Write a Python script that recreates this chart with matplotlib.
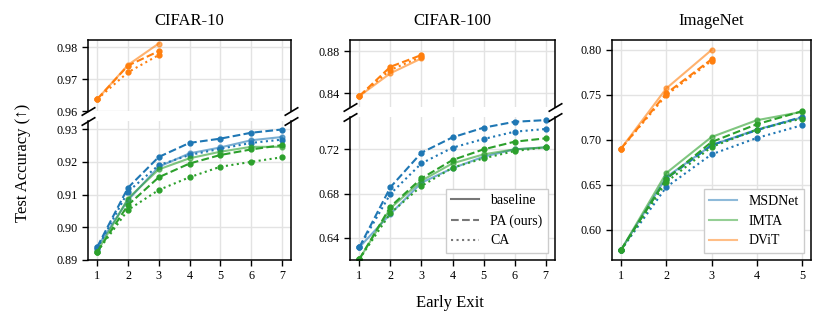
import numpy as np
import matplotlib
matplotlib.use('Agg')
import matplotlib.pyplot as plt
from matplotlib.lines import Line2D

plt.rcParams['font.family'] = ['Liberation Serif', 'DejaVu Serif']
plt.rcParams['mathtext.fontset'] = 'stix'

# data: accuracy per early exit, (baseline, PA, CA)
c10_exits = [1, 2, 3, 4, 5, 6, 7]
c10_msd_base = [0.8939, 0.9083, 0.9185, 0.9226, 0.9244, 0.9266, 0.9276]
c10_msd_pa = [0.8940, 0.9121, 0.9215, 0.9258, 0.9271, 0.9289, 0.9299]
c10_msd_ca = [0.8935, 0.9109, 0.9190, 0.9221, 0.9240, 0.9258, 0.9268]
c10_imta_base = [0.8925, 0.9088, 0.9177, 0.9211, 0.9231, 0.9246, 0.9246]
c10_imta_pa = [0.8925, 0.9068, 0.9153, 0.9195, 0.9221, 0.9238, 0.9251]
c10_imta_ca = [0.8925, 0.9053, 0.9114, 0.9153, 0.9185, 0.9200, 0.9214]
c10_dvit_exits = [1, 2, 3]
c10_dvit_base = [0.9637, 0.9744, 0.9811]
c10_dvit_pa = [0.9637, 0.9742, 0.9787]
c10_dvit_ca = [0.9637, 0.9721, 0.9775]

c100_exits = [1, 2, 3, 4, 5, 6, 7]
c100_msd_base = [0.6316, 0.6616, 0.6897, 0.7027, 0.7131, 0.7197, 0.7215]
c100_msd_pa = [0.6316, 0.6856, 0.7167, 0.7305, 0.7392, 0.7445, 0.7460]
c100_msd_ca = [0.6316, 0.6796, 0.7071, 0.7212, 0.7290, 0.7356, 0.7380]
c100_imta_base = [0.6209, 0.6667, 0.6915, 0.7071, 0.7152, 0.7197, 0.7215]
c100_imta_pa = [0.6209, 0.6681, 0.6936, 0.7101, 0.7197, 0.7266, 0.7296]
c100_imta_ca = [0.6209, 0.6622, 0.6867, 0.7032, 0.7116, 0.7182, 0.7215]
c100_dvit_exits = [1, 2, 3]
c100_dvit_base = [0.8371, 0.8588, 0.8730]
c100_dvit_pa = [0.8371, 0.8650, 0.8762]
c100_dvit_ca = [0.8371, 0.8620, 0.8746]

in_exits = [1, 2, 3, 4, 5]
in_msd_base = [0.5773, 0.6585, 0.6939, 0.7114, 0.7248]
in_msd_pa = [0.5773, 0.6566, 0.6940, 0.7106, 0.7255]
in_msd_ca = [0.5773, 0.6473, 0.6838, 0.7020, 0.7162]
in_imta_base = [0.5773, 0.6630, 0.7031, 0.7218, 0.7311]
in_imta_pa = [0.5773, 0.6566, 0.6975, 0.7173, 0.7318]
in_imta_ca = [0.5773, 0.6529, 0.6920, 0.7114, 0.7237]
in_dvit_exits = [1, 2, 3]
in_dvit_base = [0.6902, 0.7572, 0.8000]
in_dvit_pa = [0.6902, 0.7516, 0.7896]
in_dvit_ca = [0.6902, 0.7497, 0.7880]

titles = ['CIFAR-10', 'CIFAR-100', 'ImageNet']
colors = {'MSDNet': 'tab:blue', 'IMTA': 'tab:green', 'DViT': 'tab:orange'}

W, H = 830, 328
fig = plt.figure(figsize=(W / 100, H / 100), dpi=100)


def px_axes(x0, x1, y0, y1):
    return fig.add_axes([x0 / W, 1 - y1 / H, (x1 - x0) / W, (y1 - y0) / H])


def draw(ax, x, base, pa, ca, color):
    ax.plot(x, base, '-', color=color, lw=1.5, alpha=0.6, marker='o', ms=3.5)
    ax.plot(x, pa, '--', color=color, lw=1.5, marker='o', ms=3.5)
    ax.plot(x, ca, ':', color=color, lw=1.5, marker='o', ms=3.5)


def style(ax):
    ax.grid(True, color='#e3e3e3', lw=1)
    ax.set_axisbelow(True)
    for s in ax.spines.values():
        s.set_linewidth(1.1)
    ax.tick_params(labelsize=8.7, width=1.0, length=4)


def breakmarks(ax, y):
    d = 0.6
    ax.plot([0, 1], [y, y], transform=ax.transAxes, marker=[(-1, -d), (1, d)],
            markersize=10, linestyle='none', color='k', mec='k', mew=1.2, clip_on=False)


panels = [
    dict(x0=88, x1=291, top=(40, 111), bot=(121, 260), ytop=(0.96, 0.9822), ybot=(0.89, 0.9325),
         ttop=[0.96, 0.97, 0.98], tbot=[0.89, 0.90, 0.91, 0.92, 0.93],
         ex=c10_exits, msd=(c10_msd_base, c10_msd_pa, c10_msd_ca),
         imta=(c10_imta_base, c10_imta_pa, c10_imta_ca),
         dx=c10_dvit_exits, dvit=(c10_dvit_base, c10_dvit_pa, c10_dvit_ca)),
    dict(x0=350, x1=555, top=(40, 107), bot=(117, 260), ytop=(0.8267, 0.8905), ybot=(0.6202, 0.7488),
         ttop=[0.84, 0.88], tbot=[0.64, 0.68, 0.72],
         ex=c100_exits, msd=(c100_msd_base, c100_msd_pa, c100_msd_ca),
         imta=(c100_imta_base, c100_imta_pa, c100_imta_ca),
         dx=c100_dvit_exits, dvit=(c100_dvit_base, c100_dvit_pa, c100_dvit_ca)),
]

for i, p in enumerate(panels):
    axt = px_axes(p['x0'], p['x1'], *p['top'])
    axb = px_axes(p['x0'], p['x1'], *p['bot'])
    for ax in (axt, axb):
        style(ax)
        draw(ax, p['ex'], *p['msd'], colors['MSDNet'])
        draw(ax, p['ex'], *p['imta'], colors['IMTA'])
        draw(ax, p['dx'], *p['dvit'], colors['DViT'])
        ax.set_xlim(0.7, 7.3)
        ax.set_xticks(p['ex'])
    axt.set_ylim(*p['ytop'])
    axb.set_ylim(*p['ybot'])
    axt.set_yticks(p['ttop'])
    axb.set_yticks(p['tbot'])
    axt.yaxis.set_major_formatter(matplotlib.ticker.FormatStrFormatter('%.2f'))
    axb.yaxis.set_major_formatter(matplotlib.ticker.FormatStrFormatter('%.2f'))
    axt.spines['bottom'].set_visible(False)
    axb.spines['top'].set_visible(False)
    axt.tick_params(axis='x', bottom=False, labelbottom=False)
    breakmarks(axt, 0)
    breakmarks(axb, 1)
    axt.set_title(titles[i], fontsize=12, pad=11)
    if i == 1:
        handles = [Line2D([], [], color='#777777', ls='-', lw=1.5),
                   Line2D([], [], color='#777777', ls='--', lw=1.5),
                   Line2D([], [], color='#777777', ls=':', lw=1.5)]
        axb.legend(handles, ['baseline', 'PA (ours)', 'CA'], loc='lower right',
                   fontsize=10, fancybox=False, edgecolor='#cccccc', framealpha=1)

ax = px_axes(612, 811, 40, 260)
style(ax)
draw(ax, in_exits, in_msd_base, in_msd_pa, in_msd_ca, colors['MSDNet'])
draw(ax, in_exits, in_imta_base, in_imta_pa, in_imta_ca, colors['IMTA'])
draw(ax, in_dvit_exits, in_dvit_base, in_dvit_pa, in_dvit_ca, colors['DViT'])
ax.set_xticks(in_exits)
ax.set_yticks([0.60, 0.65, 0.70, 0.75, 0.80])
ax.yaxis.set_major_formatter(matplotlib.ticker.FormatStrFormatter('%.2f'))
ax.set_title(titles[2], fontsize=12, pad=11)
handles = [Line2D([], [], color=colors[k], lw=1.5, alpha=0.5) for k in colors]
ax.legend(handles, list(colors), loc='lower right', fontsize=10, fancybox=False,
          edgecolor='#cccccc', framealpha=1)

fig.text(23 / W, 1 - 163 / H, 'Test Accuracy (↑)', rotation=90, ha='center', va='center', fontsize=12)
fig.text(450 / W, 1 - 303 / H, 'Early Exit', ha='center', va='center', fontsize=12)

fig.savefig('out.png', dpi=100)
